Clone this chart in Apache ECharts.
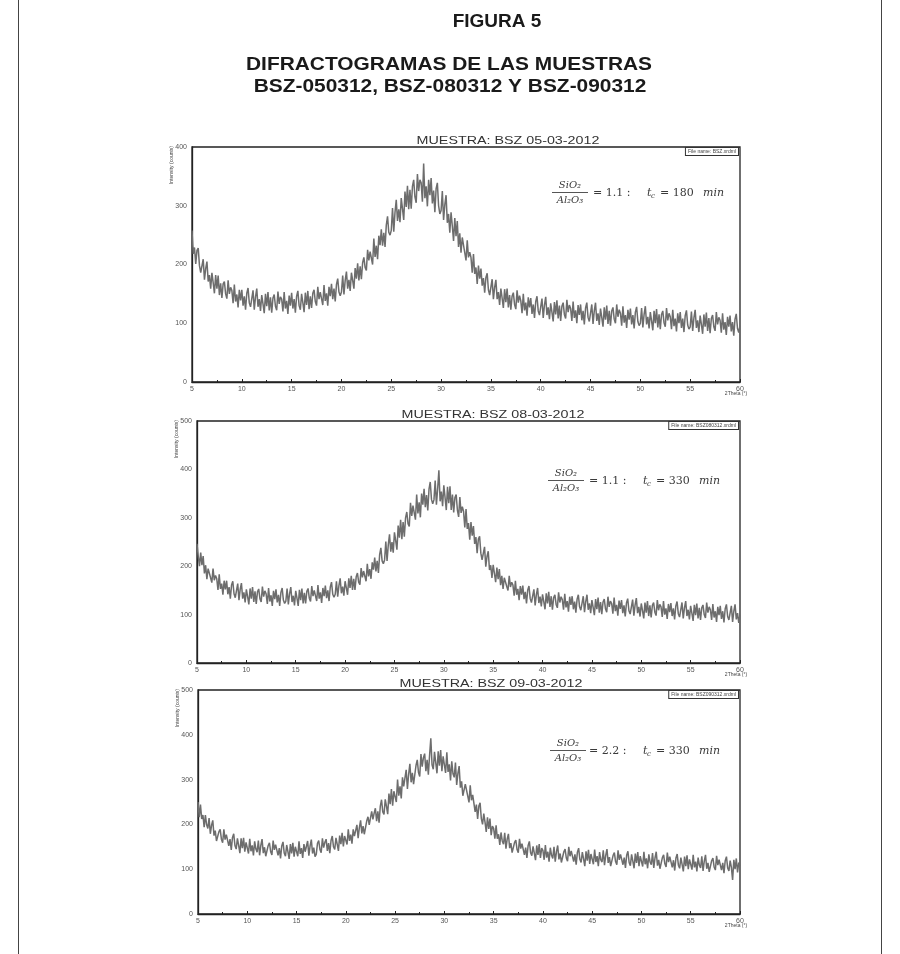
<!DOCTYPE html>
<html><head><meta charset="utf-8">
<script src="https://cdn.jsdelivr.net/npm/echarts/dist/echarts.min.js"></script>
<style>html,body{margin:0;padding:0;background:#fff}#c{width:900px;height:954px}</style>
</head><body><div id="c"></div>
<script>
// 2θ scan: 5° to 60°, step 0.125°
const scanStart = 5, scanStep = 0.125, scanCount = 441;
const twoTheta = [];
for (let i = 0; i < scanCount; i++) twoTheta.push(scanStart + i * scanStep);

const xTicks = [5,10,15,20,25,30,35,40,45,50,55,60];

const panelTitles = ['MUESTRA: BSZ 05-03-2012','MUESTRA: BSZ 08-03-2012','MUESTRA: BSZ 09-03-2012'];
const fileNames = ['File name: BSZ.xrdml','File name: BSZ080312.xrdml','File name: BSZ090312.xrdml'];
const ratios = ['1.1','1.1','2.2'];
const times = ['180','330','330'];
const yMax = [400, 500, 500];

// intensity (counts), one row per degree (8 points per degree)
const bsz050312 = [
258,218,229,201,224,228,198,186,
186,209,174,193,205,171,182,159,
186,169,151,182,159,181,148,168,
143,167,171,150,142,173,150,161,
156,134,166,137,149,127,157,139,
157,130,146,123,151,160,135,128,
130,156,123,145,159,128,141,121,
148,133,117,150,129,153,122,144,
118,143,149,129,122,154,133,145,
141,120,153,125,138,116,147,130,
152,125,141,118,146,155,130,123,
150,135,119,152,131,155,124,146,
126,151,157,137,130,162,141,153,
151,131,165,138,151,130,162,146,
167,141,159,137,166,176,153,147,
153,181,149,173,188,159,174,155,
186,173,159,194,176,202,173,197,
175,203,212,195,190,225,207,222,
222,200,244,213,232,209,249,233,
260,232,254,230,267,282,255,250,
258,296,256,289,310,274,294,272,
313,295,276,324,298,334,294,327,
295,333,344,315,305,354,325,344,
339,307,372,313,333,299,344,318,
347,304,326,289,329,339,300,286,
292,325,276,302,318,271,286,254,
289,266,240,279,248,274,230,253,
220,246,248,220,207,241,212,221,
212,186,218,184,195,167,198,176,
193,164,177,152,178,185,157,148,
151,175,141,161,174,141,153,131,
159,143,126,158,136,159,127,148,
123,146,152,132,124,156,135,147,
138,117,150,122,135,113,144,127,
143,116,132,109,137,146,121,114,
116,142,109,131,145,114,127,107,
134,119,103,136,115,139,108,130,
104,129,135,115,108,140,119,131,
125,104,137,109,122,100,131,114,
132,105,121,98,126,135,110,103,
106,132,99,121,135,104,117,97,
125,110,94,127,106,130,99,121,
96,121,127,107,100,132,111,123,
117,96,129,101,114,92,123,106,
125,98,114,91,119,128,103,96,
100,126,93,115,129,98,111,91,
119,104,88,121,100,124,93,115,
90,115,121,101,94,126,105,117,
111,90,123,95,108,86,117,100,
119,92,108,85,113,122,97,90,
94,120,87,109,123,92,105,85,
113,98,82,115,94,118,87,109,
83,108,114,94,87,119,98,110,
105,84,117,89,102,80,111,94,
113,86,102,79,107,116,91,84,
96];

const bsz080312 = [
246,221,200,228,202,221,185,202,
173,195,198,176,166,195,171,181,
174,151,183,153,164,141,170,152,
170,142,157,133,161,169,143,135,
139,164,130,152,165,133,146,125,
152,137,121,154,133,157,126,148,
122,147,153,133,126,158,137,149,
143,122,155,127,140,118,149,132,
152,125,141,118,146,155,130,123,
128,154,121,143,157,126,139,119,
149,134,118,151,130,154,123,145,
123,148,154,134,127,159,138,150,
149,128,161,133,146,124,155,138,
160,134,150,128,157,167,142,136,
142,169,137,160,175,144,158,139,
169,155,141,175,155,180,151,174,
151,178,186,167,162,196,177,190,
188,169,205,179,194,174,208,193,
218,189,211,186,224,238,211,205,
213,251,211,244,266,230,250,228,
270,253,234,284,259,296,256,291,
261,300,312,288,282,331,304,325,
324,296,348,309,332,301,350,327,
360,322,347,315,359,374,338,329,
337,377,327,360,398,334,354,324,
367,342,316,364,330,365,316,348,
311,342,348,316,302,343,310,323,
313,280,318,277,289,255,291,263,
283,246,260,227,256,262,227,213,
215,240,199,220,231,192,202,176,
203,185,167,197,173,194,161,180,
153,176,180,158,150,180,157,167,
161,139,170,141,153,130,159,141,
160,132,147,123,151,159,133,125,
126,152,119,141,155,124,137,117,
142,127,111,144,123,147,116,138,
110,135,141,121,114,146,125,137,
131,110,143,115,128,106,137,120,
138,111,127,104,132,141,116,109,
112,138,105,127,141,110,123,103,
130,115,99,132,111,135,104,126,
101,126,132,112,105,137,116,128,
123,102,135,107,120,98,129,112,
130,103,119,96,124,133,108,101,
105,131,98,120,134,103,116,96,
123,108,92,125,104,128,97,119,
94,119,125,105,98,130,109,121,
116,95,128,100,113,91,122,105,
124,97,113,90,118,127,102,95,
99,125,92,114,128,97,110,90,
118,103,87,120,99,123,92,114,
89,114,120,100,93,125,104,116,
110,89,122,94,107,85,116,99,
118,91,107,84,112,121,96,89,
92,118,85,107,121,90,103,83,
100];

const bsz090312 = [
250,216,244,212,221,194,221,199,
191,214,179,198,209,175,186,163,
161,184,189,167,159,189,166,177,
180,152,167,143,171,179,153,145,
169,153,136,169,147,170,139,160,
156,135,168,140,153,131,162,145,
138,164,131,153,167,136,149,129,
128,153,159,139,132,164,143,155,
158,131,147,124,152,161,136,129,
154,139,123,156,135,159,128,150,
150,129,162,134,147,125,156,139,
137,163,130,152,166,135,148,128,
133,158,164,144,137,169,148,160,
167,141,158,136,164,174,150,144,
170,156,141,175,156,181,151,174,
174,155,189,163,177,157,189,174,
171,199,169,193,209,180,196,178,
181,208,217,199,195,229,211,225,
236,207,229,204,241,255,228,222,
256,240,223,269,245,279,242,274,
276,250,300,264,285,258,305,285,
282,322,279,312,335,294,315,290,
293,332,344,316,307,357,329,349,
358,319,344,311,354,392,333,323,
362,338,314,363,331,366,319,352,
349,315,361,317,334,298,341,313,
305,338,288,314,330,282,296,264,
263,290,294,263,249,287,254,266,
266,228,244,212,241,248,213,200,
224,205,183,216,190,213,176,196,
191,168,198,168,178,154,182,163,
156,181,146,167,179,147,158,137,
136,160,165,144,137,168,146,157,
159,132,148,125,153,162,137,130,
151,136,120,153,132,156,125,147,
142,121,154,126,139,117,148,131,
124,150,117,139,153,122,135,115,
114,139,145,125,118,150,129,141,
144,117,133,110,138,147,122,115,
138,123,107,140,119,143,112,134,
132,111,144,116,129,107,138,121,
116,142,109,131,145,114,127,107,
106,131,137,117,110,142,121,133,
137,110,126,103,131,140,115,108,
133,118,102,135,114,138,107,129,
127,106,139,111,124,102,133,116,
110,136,103,125,139,108,121,101,
101,126,132,112,105,137,116,128,
131,104,120,97,125,134,109,102,
126,111,95,128,107,131,100,122,
120,99,132,104,117,95,126,109,
103,129,96,118,132,101,114,94,
94,119,125,105,98,130,109,121,
125,98,114,91,119,128,103,96,
119,104,76,121,100,124,93,115,
107];

const seriesData = [bsz050312, bsz080312, bsz090312];

// layout (pixels)
const grids = [
  {left:192, top:147, width:548, height:235},
  {left:197, top:421, width:543, height:242},
  {left:198, top:690, width:542, height:224}
];
const titleCenters = [508, 493, 491];
const annot = [
  {fx:570, fy:192, ex:593},
  {fx:566, fy:480, ex:589},
  {fx:568, fy:750, ex:589}
];

const lineColor = '#6d6d6d';
const axisColor = '#222';

const option = {
  animation:false,
  backgroundColor:'#fff',
  grid: grids.map(g => Object.assign({show:true, borderColor:axisColor, borderWidth:1.3}, g)),
  xAxis: grids.map((g,i) => ({
    type:'value', gridIndex:i, min:5, max:60, interval:5,
    axisLine:{show:true, onZero:false, lineStyle:{color:axisColor, width:1.3}},
    axisTick:{show:true, inside:true, length:3, lineStyle:{color:axisColor}},
    minorTick:{show:true, splitNumber:2, length:2, lineStyle:{color:axisColor}},
    splitLine:{show:false},
    axisLabel:{fontSize:7, color:'#555', margin:4, fontFamily:'Liberation Sans',
      formatter: v => xTicks.indexOf(v) >= 0 ? String(v) : ''}
  })),
  yAxis: grids.map((g,i) => ({
    type:'value', gridIndex:i, min:0, max:yMax[i], interval:100,
    axisLine:{show:true, lineStyle:{color:axisColor, width:1.3}},
    axisTick:{show:false},
    splitLine:{show:false},
    axisLabel:{fontSize:7, color:'#555', margin:5, fontFamily:'Liberation Sans'}
  })),
  series: seriesData.map((d,i) => ({
    type:'line', xAxisIndex:i, yAxisIndex:i, showSymbol:false, silent:true,
    data: d.map((v,k) => [twoTheta[k], v]),
    lineStyle:{color:lineColor, width:1.5},
    itemStyle:{color:lineColor}
  })),
  graphic: []
};

const G = option.graphic;
// figure frame
G.push({type:'line', shape:{x1:18.5,y1:0,x2:18.5,y2:954}, style:{stroke:'#444', lineWidth:1}});
G.push({type:'line', shape:{x1:881.5,y1:0,x2:881.5,y2:954}, style:{stroke:'#444', lineWidth:1}});
// figure titles
G.push({type:'text', x:497, y:22, style:{text:'FIGURA 5', font:'bold 19px "Liberation Sans"', fill:'#1a1a1a', align:'center', verticalAlign:'middle'}});
G.push({type:'text', x:449, y:65, scaleX:1.1, style:{text:'DIFRACTOGRAMAS DE LAS MUESTRAS', font:'bold 19px "Liberation Sans"', fill:'#1a1a1a', align:'center', verticalAlign:'middle'}});
G.push({type:'text', x:450, y:87, scaleX:1.1, style:{text:'BSZ-050312, BSZ-080312 Y BSZ-090312', font:'bold 19px "Liberation Sans"', fill:'#1a1a1a', align:'center', verticalAlign:'middle'}});

grids.forEach((g,i) => {
  // panel title
  G.push({type:'text', x:titleCenters[i], y:g.top-6, scaleX:1.3, style:{text:panelTitles[i], font:'11px "Liberation Sans"', fill:'#333', align:'center', verticalAlign:'middle'}});
  // file name box
  G.push({type:'text', x:g.left+g.width-2, y:g.top+1, style:{text:fileNames[i], font:'5px "Liberation Sans"', fill:'#444', align:'right', verticalAlign:'top', padding:[1,2], borderColor:'#333', borderWidth:1, backgroundColor:'#fff'}});
  // axis names
  G.push({type:'text', x:g.left-20, y:g.top+18, rotation:Math.PI/2, style:{text:'Intensity (counts)', font:'5px "Liberation Sans"', fill:'#444', align:'center', verticalAlign:'middle'}});
  G.push({type:'text', x:g.left+g.width-4, y:g.top+g.height+12, style:{text:'2Theta (°)', font:'5px "Liberation Sans"', fill:'#444', align:'center', verticalAlign:'middle'}});
  // formula annotation
  const a = annot[i];
  const mf = '"DejaVu Serif"';
  G.push({type:'text', x:a.fx, y:a.fy-7, style:{text:'SiO₂', font:'italic 10px '+mf, fill:'#3a3a3a', align:'center', verticalAlign:'middle'}});
  G.push({type:'line', shape:{x1:a.fx-18, y1:a.fy+0.5, x2:a.fx+18, y2:a.fy+0.5}, style:{stroke:'#555', lineWidth:1}});
  G.push({type:'text', x:a.fx, y:a.fy+8, style:{text:'Al₂O₃', font:'italic 10px '+mf, fill:'#3a3a3a', align:'center', verticalAlign:'middle'}});
  G.push({type:'text', x:a.ex, y:a.fy+1, style:{text:'= '+ratios[i]+' :', font:'11px '+mf, fill:'#3a3a3a', align:'left', verticalAlign:'middle'}});
  G.push({type:'text', x:a.ex+54, y:a.fy+1, style:{text:'t', font:'italic 11px '+mf, fill:'#3a3a3a', align:'left', verticalAlign:'middle'}});
  G.push({type:'text', x:a.ex+58, y:a.fy+4, style:{text:'c', font:'italic 7px '+mf, fill:'#3a3a3a', align:'left', verticalAlign:'middle'}});
  G.push({type:'text', x:a.ex+67, y:a.fy+1, style:{text:'= '+times[i], font:'11px '+mf, fill:'#3a3a3a', align:'left', verticalAlign:'middle'}});
  G.push({type:'text', x:a.ex+110, y:a.fy+1, style:{text:'min', font:'italic 11px '+mf, fill:'#3a3a3a', align:'left', verticalAlign:'middle'}});
});

const chart = echarts.init(document.getElementById('c'), null, {renderer:'canvas'});
chart.setOption(option);
</script>
</body></html>
